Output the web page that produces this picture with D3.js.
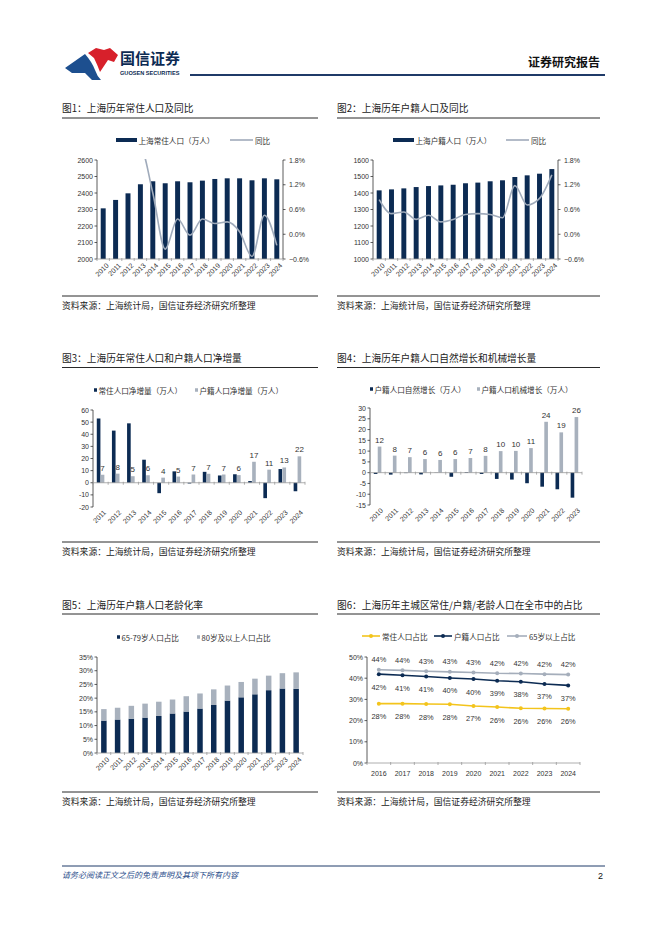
<!DOCTYPE html>
<html>
<head>
<meta charset="utf-8">
<script src="https://cdn.jsdelivr.net/npm/d3@7"></script>
<style>
body { margin: 0; background: #fff; }
svg { display: block; font-family: "Noto Sans CJK SC", "Liberation Sans", sans-serif; }
.num { font-family: "Liberation Sans", Arial, sans-serif; }
</style>
</head>
<body>
<svg id="page" width="662" height="936"></svg>
<script>
// --- DATA ---
const years1524 = ["2010","2011","2012","2013","2014","2015","2016","2017","2018","2019","2020","2021","2022","2023","2024"];
const resPop = [2307, 2358, 2398, 2453, 2471, 2459, 2471, 2465, 2475, 2485, 2489, 2489, 2477, 2489, 2483];
const resYoy = [null, 2.3, 1.9, 2.1, 1.0, -0.36, 0.37, -0.02, 0.37, 0.26, 0.30, 0.06, -0.54, 0.46, -0.27];
const hujiPop = [1416, 1422, 1428, 1436, 1442, 1446, 1450, 1459, 1463, 1471, 1477, 1497, 1507, 1517, 1545];
const hujiYoy = [0.84, 0.50, 0.54, 0.36, 0.46, 0.30, 0.36, 0.48, 0.50, 0.48, 0.40, 1.18, 0.71, 0.87, 1.44];

const netYears = ["2011","2012","2013","2014","2015","2016","2017","2018","2019","2020","2021","2022","2023","2024"];
const resNet = [53, 43, 49, 19, -8.6, 9.4, -0.6, 9, 6, 7, 1.4, -12.7, 11.3, -7];
const hujiNet = [6.6, 7.5, 5.4, 6.2, 4.2, 5.1, 6.8, 7.4, 6.8, 6.3, 17.3, 10.8, 12.6, 21.8];

const growYears = ["2010","2011","2012","2013","2014","2015","2016","2017","2018","2019","2020","2021","2022","2023"];
const naturalGrow = [-0.6, -0.9, -0.2, -0.8, 0.1, -1.9, 0.3, -0.6, -2.9, -3.2, -4.9, -6.5, -7.7, -11.6];
const mechGrow = [12.1, 7.9, 7.2, 6.3, 5.9, 6.3, 6.8, 7.8, 10.0, 10.1, 11.4, 23.6, 18.7, 25.8];

const age65to79 = [11.8, 12.2, 12.5, 12.9, 13.5, 14.4, 15.1, 16.2, 17.5, 19.1, 20.3, 21.4, 22.9, 23.5, 23.4];
const age80plus = [4.2, 4.3, 4.7, 5.1, 5.2, 5.1, 5.6, 5.5, 5.7, 5.5, 5.6, 5.7, 5.3, 5.6, 6.0];

const cityYears = ["2016","2017","2018","2019","2020","2021","2022","2023","2024"];
const shareRes = [28.0, 28.0, 27.8, 27.7, 26.9, 26.4, 25.8, 25.7, 25.6];
const shareHuji = [41.9, 41.4, 40.8, 40.1, 39.6, 38.8, 38.3, 37.3, 36.6];
const share65 = [44.0, 43.7, 43.3, 43.0, 42.7, 42.3, 42.2, 41.9, 41.7];

const ticksPop1 = [2000, 2100, 2200, 2300, 2400, 2500, 2600];
const ticksPop2 = [1000, 1100, 1200, 1300, 1400, 1500, 1600];
const ticksYoy = [-0.6, 0, 0.6, 1.2, 1.8];
const ticksNet = [-20, -10, 0, 10, 20, 30, 40, 50, 60];
const ticksGrow = [-15, -10, -5, 0, 5, 10, 15, 20, 25, 30];
const ticksAge = [0, 5, 10, 15, 20, 25, 30, 35];
const ticksShare = [0, 10, 20, 30, 40, 50];

// --- STYLE ---
const NAVY = "#0c2b53", LIGHT = "#a8b1bd", LINEGRAY = "#a0abbb", GOLD = "#f3c41c";
const svg = d3.select("#page");
const pctFmt = v => (v < 0 ? "\u2212" : "") + Math.abs(v).toFixed(1) + "%";
const intFmt = d3.format(".0f");

// --- HEADER / FOOTER ---
const logo = svg.append("g");
logo.append("path").attr("d", "M65,68 L85,54 Q92,62 95,70 Q97,76 101,80 L92,80 L85,73 L72,73 Z").attr("fill", "#1d4f8f");
logo.append("path").attr("d", "M88,53 L96,48 L104,50 L110,48 L118,55 L114,62 L108,60 L104,66 L100,72 Q97,64 94,58 Z").attr("fill", "#d7202b");
svg.append("text").attr("x", 120).attr("y", 64).attr("font-size", 15).attr("font-weight", "bold").attr("fill", NAVY).text("国信证券");
svg.append("text").attr("x", 120).attr("y", 75).attr("font-size", 5.6).attr("font-weight", "bold").attr("fill", NAVY).attr("class", "num").text("GUOSEN SECURITIES");
svg.append("text").attr("x", 600).attr("y", 67).attr("text-anchor", "end").attr("font-size", 12).attr("font-weight", "bold").attr("fill", "#111").text("证券研究报告");
svg.append("line").attr("x1", 190).attr("x2", 605).attr("y1", 75).attr("y2", 75).attr("stroke", "#1f3a68").attr("stroke-width", 2);

svg.append("line").attr("x1", 62).attr("x2", 605).attr("y1", 866).attr("y2", 866).attr("stroke", "#1f3a68").attr("stroke-width", 1);
svg.append("text").attr("x", 62).attr("y", 878).attr("font-size", 8).attr("font-style", "italic").attr("fill", "#2a4d8a").text("请务必阅读正文之后的免责声明及其项下所有内容");
svg.append("text").attr("x", 603).attr("y", 879).attr("text-anchor", "end").attr("font-size", 9).attr("class", "num").attr("fill", "#111").text("2");

// --- PANEL FRAMES ---
const rows = [
    { title: 108, under: 118, sep: 296, src: 305.5 },
    { title: 358, under: 367.5, sep: 542, src: 551 },
    { title: 605, under: 614, sep: 792, src: 801 }
];
const SOURCE = "资料来源：上海统计局，国信证券经济研究所整理";

function panel(x0, x1, row, title) {
    const r = rows[row];
    svg.append("text").attr("x", x0).attr("y", r.title).attr("dominant-baseline", "central").attr("font-size", 9.7).attr("fill", "#222").text(title);
    svg.append("line").attr("x1", x0).attr("x2", x1).attr("y1", r.under).attr("y2", r.under).attr("stroke", "#111").attr("stroke-width", 0.9);
    svg.append("line").attr("x1", x0).attr("x2", x1).attr("y1", r.sep).attr("y2", r.sep).attr("stroke", "#111").attr("stroke-width", 0.9);
    svg.append("text").attr("x", x0).attr("y", r.src).attr("dominant-baseline", "central").attr("font-size", 8.8).attr("fill", "#222").text(SOURCE);
}

// --- AXIS HELPERS ---
function leftAxis(y, x, vals, fmt) {
    const g = svg.append("g");
    const [b, t] = y.range();
    g.append("line").attr("x1", x).attr("x2", x).attr("y1", b).attr("y2", t).attr("stroke", "#333").attr("stroke-width", 0.8);
    vals.forEach(v => {
        g.append("line").attr("x1", x - 2.5).attr("x2", x).attr("y1", y(v)).attr("y2", y(v)).attr("stroke", "#333").attr("stroke-width", 0.8);
        g.append("text").attr("class", "num").attr("x", x - 4).attr("y", y(v)).attr("text-anchor", "end").attr("dominant-baseline", "central")
            .attr("font-size", 7).attr("fill", "#333").text(fmt(v));
    });
}
function rightAxis(y, x, vals, fmt) {
    const g = svg.append("g");
    const [b, t] = y.range();
    g.append("line").attr("x1", x).attr("x2", x).attr("y1", b).attr("y2", t).attr("stroke", "#333").attr("stroke-width", 0.8);
    vals.forEach(v => {
        g.append("line").attr("x1", x).attr("x2", x + 2.5).attr("y1", y(v)).attr("y2", y(v)).attr("stroke", "#333").attr("stroke-width", 0.8);
        g.append("text").attr("class", "num").attr("x", x + 6).attr("y", y(v)).attr("dominant-baseline", "central")
            .attr("font-size", 7).attr("fill", "#333").text(fmt(v));
    });
}
function bandAxis(x, yLine, yLab, rotate) {
    const g = svg.append("g");
    const [a, b] = x.range();
    g.append("line").attr("x1", a).attr("x2", b).attr("y1", yLine).attr("y2", yLine).attr("stroke", "#9a9a9a").attr("stroke-width", 0.8);
    const dom = x.domain();
    const cx = d => x(d) + x.bandwidth() / 2;
    const bounds = dom.map(d => cx(d) - x.step() / 2).concat([cx(dom[dom.length - 1]) + x.step() / 2]);
    bounds.forEach(bx => g.append("line").attr("x1", bx).attr("x2", bx).attr("y1", yLine - 1).attr("y2", yLine + 2).attr("stroke", "#9a9a9a").attr("stroke-width", 0.8));
    dom.forEach(d => {
        const t = g.append("text").attr("class", "num").attr("font-size", 7).attr("fill", "#333").text(d);
        if (rotate) t.attr("text-anchor", "end").attr("transform", `translate(${cx(d) + 3},${yLab}) rotate(-45)`).attr("dy", "0.6em");
        else t.attr("text-anchor", "middle").attr("x", cx(d)).attr("y", yLab).attr("dominant-baseline", "central");
    });
}
function legendBar(x, y, w, h, color, label) {
    svg.append("rect").attr("x", x).attr("y", y - h / 2).attr("width", w).attr("height", h).attr("fill", color);
    svg.append("text").attr("x", x + w + 1.5).attr("y", y).attr("dominant-baseline", "central").attr("font-size", 7.6).attr("fill", "#333").text(label);
}
function legendLine(x, y, w, color, label, marker) {
    svg.append("line").attr("x1", x).attr("x2", x + w).attr("y1", y).attr("y2", y).attr("stroke", color).attr("stroke-width", 1.6);
    if (marker) svg.append("circle").attr("cx", x + w / 2).attr("cy", y).attr("r", 2).attr("fill", color);
    svg.append("text").attr("x", x + w + 2).attr("y", y).attr("dominant-baseline", "central").attr("font-size", 7.6).attr("fill", "#333").text(label);
}

// --- CHART 1 & 2: bars + yoy line ---
function popChart(cfg) {
    const x = d3.scaleBand().domain(years1524).range([cfg.x0, cfg.x1]).paddingInner(0.6).paddingOuter(0.3);
    const y = d3.scaleLinear().domain(cfg.dom).range([259, 160]);
    const y2 = d3.scaleLinear().domain([-0.6, 1.8]).range([259, 160]);
    svg.append("g").selectAll("rect").data(cfg.pop).join("rect")
        .attr("x", (d, i) => x(years1524[i])).attr("width", x.bandwidth())
        .attr("y", d => y(d)).attr("height", d => 259 - y(d)).attr("fill", NAVY);
    const clipId = "clip" + cfg.id;
    svg.append("clipPath").attr("id", clipId).append("rect").attr("x", cfg.x0).attr("y", 159).attr("width", cfg.x1 - cfg.x0).attr("height", 101);
    const line = d3.line().defined(d => d != null).x((d, i) => x(years1524[i]) + x.bandwidth() / 2).y(d => y2(d)).curve(d3.curveMonotoneX);
    svg.append("path").attr("clip-path", `url(#${clipId})`).attr("d", line(cfg.yoy)).attr("fill", "none").attr("stroke", LINEGRAY).attr("stroke-width", 1.6);
    leftAxis(y, cfg.x0, cfg.ticks, d => d);
    rightAxis(y2, cfg.x1, ticksYoy, pctFmt);
    bandAxis(x, 259, 263, true);
    legendBar(cfg.lx, 140, 21, 4, NAVY, cfg.label);
    legendLine(cfg.lx2, 140, 23, LINEGRAY, "同比");
}

panel(62, 318, 0, "图1：上海历年常住人口及同比");
popChart({ id: 1, x0: 97, x1: 283, dom: [2000, 2600], ticks: ticksPop1, pop: resPop, yoy: resYoy, lx: 116, lx2: 230, label: "上海常住人口（万人）" });
panel(337, 600, 0, "图2：上海历年户籍人口及同比");
popChart({ id: 2, x0: 373, x1: 558, dom: [1000, 1600], ticks: ticksPop2, pop: hujiPop, yoy: hujiYoy, lx: 393, lx2: 506, label: "上海户籍人口（万人）" });

// --- CHART 3 & 4: paired bars with labels ---
function pairChart(cfg) {
    const x = d3.scaleBand().domain(cfg.cats).range([cfg.x0, cfg.x1]).paddingInner(0.5).paddingOuter(0.25);
    const sub = d3.scaleBand().domain(["a", "b"]).range([0, x.bandwidth()]).paddingInner(0.08);
    const y = d3.scaleLinear().domain(cfg.dom).range([cfg.yb, cfg.yt]);
    const g = svg.append("g");
    g.selectAll(".a").data(cfg.dark).join("rect").attr("class", "a")
        .attr("x", (d, i) => x(cfg.cats[i]) + sub("a")).attr("width", sub.bandwidth())
        .attr("y", d => y(Math.max(0, d))).attr("height", d => Math.abs(y(d) - y(0))).attr("fill", NAVY);
    g.selectAll(".b").data(cfg.light).join("rect").attr("class", "b")
        .attr("x", (d, i) => x(cfg.cats[i]) + sub("b")).attr("width", sub.bandwidth())
        .attr("y", d => y(Math.max(0, d))).attr("height", d => Math.abs(y(d) - y(0))).attr("fill", LIGHT);
    g.selectAll(".lab").data(cfg.light).join("text").attr("class", "num")
        .attr("x", (d, i) => x(cfg.cats[i]) + sub("b") + sub.bandwidth() / 2).attr("y", d => y(d) - 4)
        .attr("text-anchor", "middle").attr("font-size", 8).attr("fill", "#333").text(d => intFmt(d));
    leftAxis(y, cfg.x0, cfg.ticks, d => d);
    bandAxis(x, y(0), cfg.yb + 3, true);
    legendBar(cfg.lx, cfg.ly, 3, 3.5, NAVY, cfg.l1);
    legendBar(cfg.lx2, cfg.ly, 3, 3.5, LIGHT, cfg.l2);
}

panel(62, 318, 1, "图3：上海历年常住人口和户籍人口净增量");
pairChart({ cats: netYears, x0: 93, x1: 305, yb: 507, yt: 410, dom: [-20, 60], ticks: ticksNet, dark: resNet, light: hujiNet,
    lx: 94, lx2: 195, ly: 390, l1: "常住人口净增量（万人）", l2: "户籍人口净增量（万人）" });
panel(337, 600, 1, "图4：上海历年户籍人口自然增长和机械增长量");
pairChart({ cats: growYears, x0: 370, x1: 582, yb: 505, yt: 408, dom: [-15, 30], ticks: ticksGrow, dark: naturalGrow, light: mechGrow,
    lx: 370, lx2: 477, ly: 389, l1: "户籍人口自然增长（万人）", l2: "户籍人口机械增长（万人）" });

// --- CHART 5: stacked ageing ---
panel(62, 318, 2, "图5：上海历年户籍人口老龄化率");
(function () {
    const x = d3.scaleBand().domain(years1524).range([97, 303]).paddingInner(0.6).paddingOuter(0.3);
    const y = d3.scaleLinear().domain([0, 35]).range([753, 657]);
    const rowsData = years1524.map((yr, i) => ({ year: yr, a: age65to79[i], b: age80plus[i] }));
    const stack = d3.stack().keys(["a", "b"])(rowsData);
    const colors = { a: NAVY, b: LIGHT };
    svg.append("g").selectAll("g").data(stack).join("g").attr("fill", s => colors[s.key])
        .selectAll("rect").data(s => s).join("rect")
        .attr("x", d => x(d.data.year)).attr("width", x.bandwidth())
        .attr("y", d => y(d[1])).attr("height", d => y(d[0]) - y(d[1]));
    leftAxis(y, 97, ticksAge, d => d + "%");
    bandAxis(x, 753, 757, true);
    legendBar(117, 637, 3, 3.5, NAVY, "65-79岁人口占比");
    legendBar(197, 637, 3, 3.5, LIGHT, "80岁及以上人口占比");
})();

// --- CHART 6: share lines ---
panel(337, 600, 2, "图6：上海历年主城区常住/户籍/老龄人口在全市中的占比");
(function () {
    const x = d3.scaleBand().domain(cityYears).range([367, 580]);
    const y = d3.scaleLinear().domain([0, 50]).range([763, 657]);
    const cx = d => x(d) + x.bandwidth() / 2;
    const series = [
        { vals: share65, color: "#a5aebb", dy: -10 },
        { vals: shareHuji, color: NAVY, dy: 13 },
        { vals: shareRes, color: GOLD, dy: 13 }
    ];
    const line = d3.line().x((d, i) => cx(cityYears[i])).y(d => y(d));
    series.forEach(s => {
        const g = svg.append("g");
        g.append("path").attr("d", line(s.vals)).attr("fill", "none").attr("stroke", s.color).attr("stroke-width", 1.6);
        g.selectAll("circle").data(s.vals).join("circle").attr("cx", (d, i) => cx(cityYears[i])).attr("cy", d => y(d)).attr("r", 2).attr("fill", s.color);
        g.selectAll("text").data(s.vals).join("text").attr("class", "num")
            .attr("x", (d, i) => cx(cityYears[i])).attr("y", d => y(d) + s.dy).attr("text-anchor", "middle").attr("dominant-baseline", "central")
            .attr("font-size", 7.4).attr("fill", "#333").text(d => intFmt(d) + "%");
    });
    leftAxis(y, 367, ticksShare, d => d + "%");
    bandAxis(x, 763, 773, false);
    legendLine(362, 636, 18, GOLD, "常住人口占比", true);
    legendLine(434, 636, 18, NAVY, "户籍人口占比", true);
    legendLine(507, 636, 20, "#a5aebb", "65岁以上占比", true);
})();
</script>
</body>
</html>
